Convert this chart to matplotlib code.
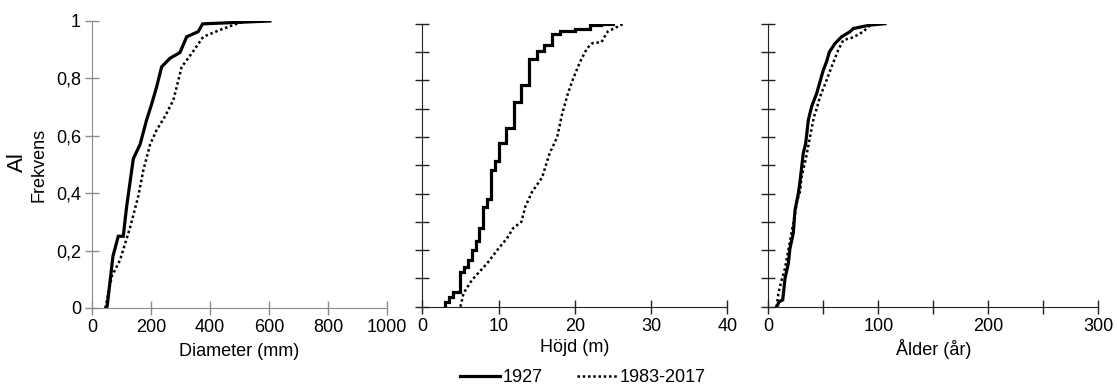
import matplotlib.pyplot as plt
import numpy as np
from matplotlib.ticker import MultipleLocator, FuncFormatter

plt.rcParams['font.family'] = ['Liberation Sans', 'DejaVu Sans']
plt.rcParams['font.size'] = 13

# Diameter (mm) - cumulative frequency
diam_1927 = [50, 53, 71, 89, 106, 117, 140, 163, 185, 202, 219, 236, 264, 298, 321, 360, 375, 603]
frek_diam_1927 = [0.0, 0.02, 0.18, 0.25, 0.25, 0.35, 0.52, 0.57, 0.655, 0.71, 0.77, 0.84, 0.87, 0.89, 0.945, 0.963, 0.99, 1.0]
diam_1983 = [45, 67, 95, 129, 157, 174, 197, 219, 247, 276, 304, 338, 377, 434, 490, 524]
frek_diam_1983 = [0.0, 0.11, 0.167, 0.28, 0.39, 0.48, 0.57, 0.62, 0.667, 0.725, 0.84, 0.887, 0.945, 0.969, 0.99, 1.0]

# Hojd (m) - 1927 is a staircase (heights in half metres)
hojd_1927 = [3.0, 3.0, 3.5, 4.0, 5.0, 5.5, 6.0, 6.5, 7.0, 7.5, 8.0, 8.5, 9.0, 9.5, 10.0,
             11.0, 12.0, 13.0, 14.0, 15.0, 16.0, 17.0, 18.0, 20.0, 22.0, 23.5, 25.0]
frek_hojd_1927 = [0.0, 0.018, 0.035, 0.053, 0.124, 0.141, 0.165, 0.2, 0.233, 0.277, 0.353, 0.379, 0.483, 0.516, 0.58,
                  0.633, 0.722, 0.783, 0.874, 0.905, 0.925, 0.962, 0.974, 0.983, 0.995, 1.0, 1.0]
hojd_1983 = [5.0, 5.4, 6.5, 8.5, 10.0, 11.1, 11.9, 13.0, 13.5, 14.4, 15.7, 16.7, 17.7, 18.3,
             19.1, 19.8, 20.7, 21.6, 22.3, 23.5, 24.3, 26.4]
frek_hojd_1983 = [0.0, 0.047, 0.094, 0.153, 0.206, 0.241, 0.277, 0.30, 0.353, 0.406, 0.456, 0.542, 0.60, 0.677,
                  0.754, 0.807, 0.866, 0.913, 0.931, 0.935, 0.972, 1.0]

# Alder (ar)
alder_1927 = [7.6, 10.0, 13.1, 15.2, 18.2, 19.7, 22.7, 24.3, 27.3, 28.8, 31.8, 34.0, 36.4, 39.4, 44.0,
              47.0, 50.0, 53.0, 55.5, 60.6, 66.7, 74.3, 77.3, 92.4, 106.0]
frek_alder_1927 = [0.0, 0.018, 0.024, 0.1, 0.153, 0.206, 0.259, 0.342, 0.40, 0.442, 0.542, 0.577, 0.66, 0.707, 0.754,
                   0.795, 0.836, 0.866, 0.90, 0.93, 0.954, 0.972, 0.983, 0.995, 1.0]
alder_1983 = [7.6, 9.1, 12.1, 15.2, 21.3, 26.4, 28.8, 30.3, 34.5, 37.9, 41.5, 44.0, 47.0, 51.5, 57.6,
              63.6, 68.2, 77.3, 86.4, 94.0]
frek_alder_1983 = [0.0, 0.045, 0.094, 0.136, 0.265, 0.377, 0.406, 0.459, 0.53, 0.60, 0.671, 0.70, 0.742, 0.785, 0.848,
                   0.907, 0.942, 0.952, 0.972, 1.0]

fig = plt.figure(figsize=(11.17, 3.85), dpi=100)
ax1 = fig.add_axes([92 / 1117, 77 / 385, 295 / 1117, 287 / 385])
ax2 = fig.add_axes([422.3 / 1117, 78.3 / 385, 305 / 1117, 283 / 385])
ax3 = fig.add_axes([768.3 / 1117, 78.3 / 385, 330 / 1117, 283 / 385])

solid = dict(color='black', lw=2.3, solid_joinstyle='miter')
dotted = dict(color='black', lw=1.8, ls=(0, (1, 1.1)))

ax1.plot(diam_1927, frek_diam_1927, **solid)
ax1.plot(diam_1983, frek_diam_1983, **dotted)
ax2.plot(hojd_1927, frek_hojd_1927, drawstyle='steps-post', label='1927', **solid)
ax2.plot(hojd_1983, frek_hojd_1983, label='1983-2017', **dotted)
ax3.plot(alder_1927, frek_alder_1927, **solid)
ax3.plot(alder_1983, frek_alder_1983, **dotted)

comma = FuncFormatter(lambda v, p: ('%g' % round(v, 2)).replace('.', ','))

for ax, col in [(ax1, '#8c8c8c'), (ax2, '#222222'), (ax3, '#222222')]:
    ax.spines['right'].set_visible(False)
    ax.spines['top'].set_visible(False)
    ax.spines['left'].set_color(col)
    ax.spines['bottom'].set_color(col)
    ax.set_ylim(0, 1)
    ax.tick_params(direction='inout', length=10, width=1, color=col, labelsize=13, pad=3)
    ax.tick_params(which='minor', direction='inout', length=10, width=1, color=col)

ax1.set_xlim(0, 1000)
ax1.xaxis.set_major_locator(MultipleLocator(200))
ax1.yaxis.set_major_locator(MultipleLocator(0.2))
ax1.yaxis.set_major_formatter(comma)
ax1.set_xlabel('Diameter (mm)', labelpad=5)

ax2.set_xlim(0, 40)
ax2.xaxis.set_major_locator(MultipleLocator(10))
ax2.yaxis.set_major_locator(MultipleLocator(0.1))
ax2.set_yticklabels([])
ax2.set_xlabel('Höjd (m)', labelpad=3)

ax3.set_xlim(0, 300)
ax3.xaxis.set_major_locator(MultipleLocator(100))
ax3.xaxis.set_minor_locator(MultipleLocator(50))
ax3.yaxis.set_major_locator(MultipleLocator(0.1))
ax3.set_yticklabels([])
ax3.set_xlabel('Ålder (år)', labelpad=3)

fig.text(17 / 1117, 1 - 162 / 385, 'Al', rotation=90, fontsize=16, ha='center', va='center')
fig.text(39 / 1117, 1 - 165 / 385, 'Frekvens', rotation=90, fontsize=13, ha='center', va='center')

fig.legend(loc='lower center', bbox_to_anchor=(0.522, -0.045), ncol=2, frameon=False,
           handlelength=2.2, handletextpad=0.15, columnspacing=1.9, fontsize=13)

fig.savefig('out.png', dpi=100)
